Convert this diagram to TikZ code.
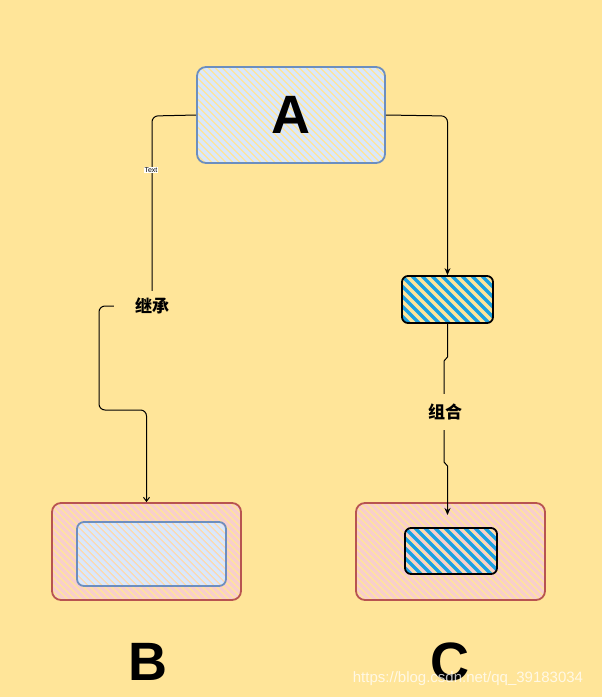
\documentclass[tikz,border=0pt]{standalone}
\usepackage{fontspec}
\setmainfont{Liberation Sans}
\newfontfamily\cjk{Noto Sans CJK SC}
\usetikzlibrary{arrows.meta}
\definecolor{bg}{HTML}{FFE599}
\definecolor{lblue}{HTML}{DAE8FC}
\definecolor{sblue}{HTML}{6C8EBF}
\definecolor{lred}{HTML}{F8CECC}
\definecolor{sred}{HTML}{B85450}
\definecolor{dblue}{HTML}{1BA1E2}
\tikzset{
  hatch/.style n args={3}{path picture={
    \foreach \k in {-40,...,40}{
      \draw[line width=#2, #1] ([xshift=\k*#3]path picture bounding box.north west) -- ++(300,300);}}},
  box/.style={rectangle, rounded corners=9pt, inner sep=0pt, line width=1.8pt},
  bluebox/.style={box, draw=sblue, hatch={lblue}{3.4pt}{7pt}},
  redbox/.style={box, draw=sred, hatch={lred}{3.4pt}{7pt}},
  darkbox/.style={box, rounded corners=6pt, draw=black, hatch={dblue}{3.5pt}{10pt}},
  big/.style={font=\fontsize{54}{54}\selectfont\bfseries},
  lbl/.style={fill=bg, font=\cjk\fontsize{17}{17}\selectfont\bfseries, inner sep=0pt, minimum width=76pt, minimum height=30pt},
  conn/.style={line width=1pt, rounded corners=6pt},
}
\begin{document}
\begin{tikzpicture}[x=1pt,y=-1pt]
\fill[bg] (0,0) rectangle (602,697);
\useasboundingbox (0,0) rectangle (602,697);

\node[bluebox, minimum width=188pt, minimum height=96pt, big] (A) at (291,115) {A};
\node[darkbox, minimum width=91pt, minimum height=47pt] (S) at (447.5,299.5) {};
\node[redbox, minimum width=189pt, minimum height=97pt] (BO) at (146.5,551.5) {};
\node[bluebox, rounded corners=7pt, minimum width=149pt, minimum height=64pt] (BI) at (151.5,554) {};
\node[redbox, minimum width=189pt, minimum height=97pt] (CO) at (450.5,551.5) {};
\node[darkbox, minimum width=92pt, minimum height=46pt] (CI) at (451,551) {};

\node[big] (lB) at (148,662) {B};
\node[big] (lC) at (450,662) {C};

% inheritance
\draw[conn, -{Straight Barb[length=4pt, width=6pt]}] (A.west) -- (152,116) -- (152,306) node[lbl] (inh) {继承}
  -- (99,306) -- (99,410) -- (146.5,410) -- (BO.north);
\node[fill=white, inner sep=0.6pt, font=\fontsize{7}{7}\selectfont] (txt) at (151,170) {Text};

% composition
\coordinate (cend) at (447.5,515);
\draw[conn, -{Stealth[length=7pt, width=6pt]}] (A.east) -- (447.5,116) -- (S.north);
\draw[line width=1pt, -{Stealth[length=7pt, width=6pt]}] (S.south) -- (447.5,357) -- (444,361) -- (444,462) -- (447.5,466) -- (cend);
\node[lbl, minimum width=50pt, minimum height=36pt] (comp) at (445,412) {组合};

\node[text=white, opacity=0.75, font=\fontsize{15}{15}\selectfont, inner sep=0pt] (wm) at (468,679) {https://blog.csdn.net/qq\_39183034};
\end{tikzpicture}
\end{document}
